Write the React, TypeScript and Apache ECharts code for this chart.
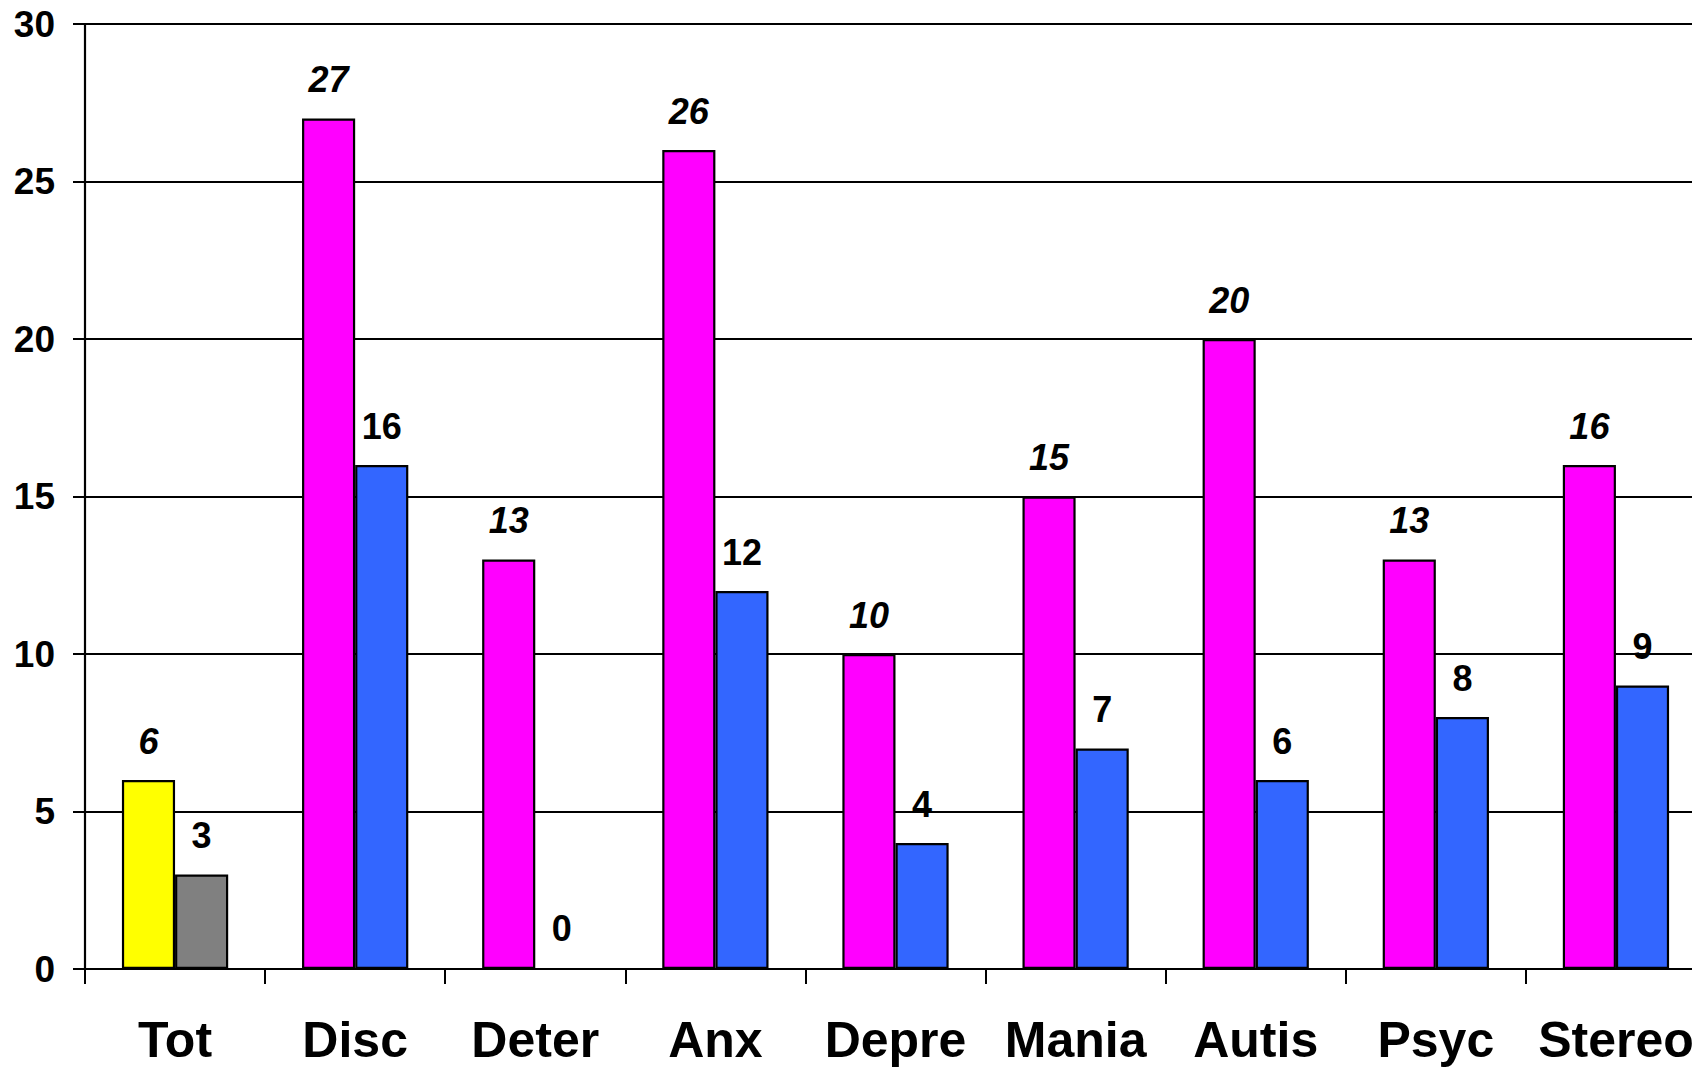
import React, { useEffect, useRef } from "react";
import * as echarts from "echarts";

// Category names along the x axis
const categories = ["Tot", "Disc", "Deter", "Anx", "Depre", "Mania", "Autis", "Psyc", "Stereo"];
// First bar in each group (italic labels)
const seriesA = [6, 27, 13, 26, 10, 15, 20, 13, 16];
// Second bar in each group
const seriesB = [3, 16, 0, 12, 4, 7, 6, 8, 9];
// Group colours: the total group uses its own pair
const colorsA = ["#FFFF00", "#FF00FF", "#FF00FF", "#FF00FF", "#FF00FF", "#FF00FF", "#FF00FF", "#FF00FF", "#FF00FF"];
const colorsB = ["#808080", "#3366FF", "#3366FF", "#3366FF", "#3366FF", "#3366FF", "#3366FF", "#3366FF", "#3366FF"];
const yTicks = { min: 0, max: 30, interval: 5 };

const FONT = "'Liberation Sans', Arial, sans-serif";

export default function App() {
  const ref = useRef<HTMLDivElement>(null);

  useEffect(() => {
    document.body.style.margin = "0";
    document.body.style.overflow = "hidden";
    const chart = echarts.init(ref.current!, undefined, { renderer: "svg" });
    const labelBase = {
      show: true,
      position: "top" as const,
      distance: 21,
      color: "#000",
      fontFamily: FONT,
      fontWeight: "bold" as const,
      fontSize: 36,
    };
    chart.setOption({
      animation: false,
      backgroundColor: "#fff",
      grid: { left: 85, right: 14, top: 24, bottom: 100, containLabel: false },
      xAxis: {
        type: "category",
        data: categories,
        boundaryGap: true,
        axisLine: { show: true, lineStyle: { color: "#000", width: 2.2 } },
        axisTick: { show: true, alignWithLabel: false, length: 15, lineStyle: { color: "#000", width: 2 } },
        axisLabel: {
          color: "#000",
          fontFamily: FONT,
          fontWeight: "bold",
          fontSize: 50,
          margin: 46,
          interval: 0,
        },
        splitLine: { show: false },
      },
      yAxis: {
        type: "value",
        min: yTicks.min,
        max: yTicks.max,
        interval: yTicks.interval,
        axisLine: { show: true, lineStyle: { color: "#000", width: 2.2 } },
        axisTick: { show: true, length: 12, lineStyle: { color: "#000", width: 2 } },
        axisLabel: {
          color: "#000",
          fontFamily: FONT,
          fontWeight: "bold",
          fontSize: 37,
          margin: 30,
        },
        splitLine: { show: true, lineStyle: { color: "#000", width: 2.2 } },
      },
      series: [
        {
          type: "bar",
          data: seriesA.map((v, i) => ({ value: v, itemStyle: { color: colorsA[i] } })),
          barGap: "0%",
          barCategoryGap: "41%",
          itemStyle: { borderColor: "#000", borderWidth: 2.2 },
          label: { ...labelBase, fontStyle: "italic" },
        },
        {
          type: "bar",
          data: seriesB.map((v, i) => ({ value: v, itemStyle: { color: colorsB[i] } })),
          barGap: "0%",
          barCategoryGap: "41%",
          itemStyle: { borderColor: "#000", borderWidth: 2.2 },
          label: { ...labelBase },
        },
      ],
    });
    return () => chart.dispose();
  }, []);

  return (
    <div style={{ position: "fixed", left: 0, top: 0, width: 1692, height: 1069, overflow: "hidden", background: "#fff" }}>
      <div ref={ref} style={{ width: 1720, height: 1069 }} />
    </div>
  );
}
